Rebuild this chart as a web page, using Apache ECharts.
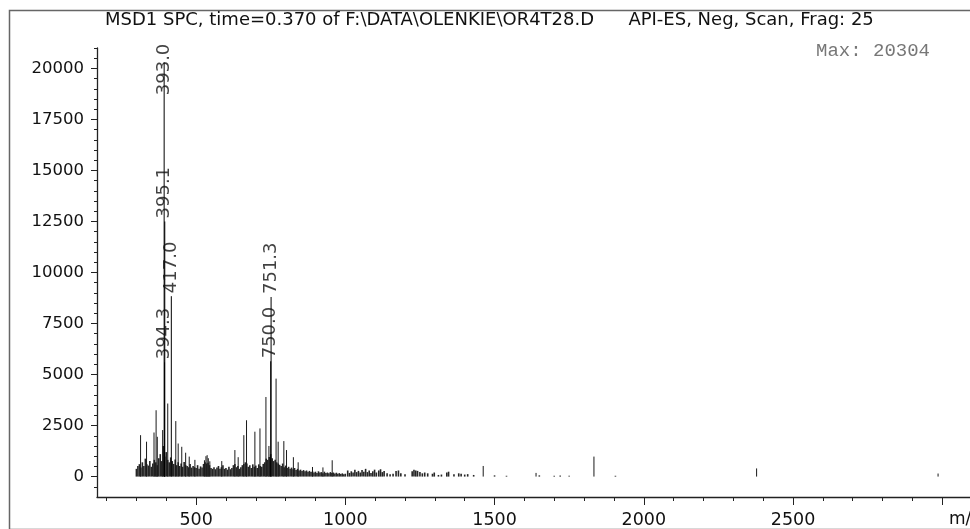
<!DOCTYPE html>
<html>
<head>
<meta charset="utf-8">
<script src="https://cdn.jsdelivr.net/npm/echarts@6/dist/echarts.min.js"></script>
<style>
html,body{margin:0;padding:0;background:#fff;}
#chart{width:970px;height:529px;}
</style>
</head>
<body>
<div id="chart"></div>
<script>
// ---- text ----
const titleText = 'MSD1 SPC, time=0.370 of F:\\DATA\\OLENKIE\\OR4T28.D      API-ES, Neg, Scan, Frag: 25';
const maxText = 'Max: 20304';
const xName = 'm/z';

// ---- ticks ----
const xMajorTicks = [500, 1000, 1500, 2000, 2500, 3000];
const xLabelTicks = [500, 1000, 1500, 2000, 2500];
const xMinorTicks = [200, 300, 400, 600, 700, 800, 900, 1100, 1200, 1300, 1400, 1600, 1700, 1800, 1900,
  2100, 2200, 2300, 2400, 2600, 2700, 2800, 2900];
const yMajorTicks = [0, 2500, 5000, 7500, 10000, 12500, 15000, 17500, 20000];
const yMinorTicks = [-500, 500, 1000, 1500, 2000, 3000, 3500, 4000, 4500, 5500, 6000, 6500, 7000,
  8000, 8500, 9000, 9500, 10500, 11000, 11500, 12000, 13000, 13500, 14000, 14500, 15500, 16000, 16500, 17000,
  18000, 18500, 19000, 19500, 20500, 21000];

// ---- labelled peaks [m/z, abundance] ----
const labelledPeaks = [[393.0, 20304], [395.1, 12500], [417.0, 8840], [394.3, 5600], [751.3, 8800], [750.0, 5650]];

// ---- other visible peaks [m/z, abundance] ----
const otherPeaks = [[314, 2030], [334, 1710], [359, 2160], [366, 3250], [370, 1950], [388, 2280], [405, 3580],
  [432, 2720], [440, 1620], [452, 1460], [465, 1170], [477, 980], [496, 820], [528, 800], [533, 1000], [537, 1050],
  [541, 900], [546, 750], [586, 760], [630, 1300], [641, 950], [660, 2030], [669, 2760], [697, 2200], [714, 2360],
  [734, 3900], [744, 1500], [768, 4800], [775, 1710], [794, 1740], [803, 1300], [826, 950], [842, 700], [890, 470],
  [925, 450], [956, 800], [1462, 520], [1639, 180], [1833, 980], [2378, 400], [2986, 150]];

// ---- baseline noise [m/z, abundance] ----
const noise = [[300, 380], [305, 520], [310, 610], [315, 450], [320, 700], [325, 520], [330, 880], [335, 600], [340, 540],
  [345, 760], [350, 480], [355, 640], [360, 820], [365, 700], [370, 560], [375, 900], [380, 1100], [385, 760], [390, 1500],
  [395, 980], [400, 1200], [405, 820], [410, 700], [415, 940], [420, 760], [425, 620], [430, 840], [435, 560], [440, 700],
  [445, 520], [450, 640], [455, 480], [460, 720], [465, 560], [470, 520], [475, 460], [480, 620], [485, 440], [490, 520],
  [495, 460], [500, 420], [505, 560], [510, 380], [515, 500], [520, 440], [525, 620], [530, 700], [535, 640], [540, 680],
  [545, 560], [550, 420], [555, 380], [560, 460], [565, 360], [570, 440], [575, 520], [580, 380], [585, 460], [590, 560],
  [595, 380], [600, 420], [605, 340], [610, 480], [615, 360], [620, 420], [625, 560], [630, 620], [635, 460], [640, 520],
  [645, 380], [650, 460], [655, 560], [660, 620], [665, 700], [670, 640], [675, 480], [680, 560], [685, 420], [690, 600],
  [695, 480], [700, 540], [705, 420], [710, 600], [715, 520], [720, 480], [725, 620], [730, 700], [735, 880], [740, 820],
  [745, 960], [750, 1100], [755, 900], [760, 760], [765, 820], [770, 700], [775, 640], [780, 580], [785, 520], [790, 640],
  [795, 460], [800, 540], [805, 420], [810, 480], [815, 380], [820, 440], [825, 360], [830, 420], [835, 320], [840, 380],
  [845, 300], [850, 340], [855, 280], [860, 320], [865, 260], [870, 300], [875, 240], [880, 280], [885, 220], [890, 260],
  [895, 200], [900, 240], [905, 180], [910, 260], [915, 200], [920, 220], [925, 160], [930, 240], [935, 180], [940, 200],
  [945, 160], [950, 220], [955, 180], [960, 200], [965, 150], [970, 190], [975, 140], [980, 170], [985, 130], [990, 160],
  [995, 120], [1000, 140], [1008, 300], [1014, 180], [1020, 260], [1026, 200], [1032, 340], [1038, 220], [1044, 280],
  [1050, 200], [1056, 320], [1062, 240], [1068, 380], [1074, 220], [1080, 300], [1086, 180], [1092, 260], [1098, 340],
  [1104, 200], [1112, 300], [1118, 360], [1124, 220], [1130, 280], [1140, 160], [1150, 120], [1160, 140], [1170, 280],
  [1178, 300], [1186, 160], [1200, 120], [1224, 260], [1230, 340], [1236, 300], [1242, 280], [1250, 220], [1258, 160],
  [1266, 200], [1276, 160], [1292, 140], [1298, 200], [1312, 80], [1322, 100], [1340, 200], [1346, 240], [1364, 120],
  [1380, 160], [1388, 140], [1400, 100], [1410, 120], [1430, 80], [1500, 60], [1540, 40], [1650, 60], [1700, 40],
  [1720, 50], [1750, 40], [1905, 40]];

// ---- styling / layout constants ----
const SANS = 'DejaVu Sans';
const labelShift = { '393.0': [-36, 0] };

function stickRenderer(color, width) {
  return function (params, api) {
    const x = api.value(0), y = api.value(1);
    const p0 = api.coord([x, 0]);
    const p1 = api.coord([x, y]);
    return {
      type: 'line',
      shape: { x1: p0[0], y1: p0[1], x2: p1[0], y2: p1[1] },
      style: { stroke: color, lineWidth: width }
    };
  };
}

const chart = echarts.init(document.getElementById('chart'));
const axisColor = '#222';
const plain = v => String(v);

const option = {
  animation: false,
  backgroundColor: '#fff',
  title: {
    text: titleText,
    left: 100, top: 6,
    textStyle: { fontFamily: SANS, fontSize: 18, fontWeight: 'normal', color: '#111' }
  },
  grid: { left: 97, right: 0, top: 48, bottom: 30.5, containLabel: false },
  xAxis: [
    {
      type: 'value', min: 168, max: 3093,
      axisLine: { show: true, onZero: false, lineStyle: { color: axisColor, width: 1.3 } },
      axisTick: { show: true, customValues: xMajorTicks, length: 8, lineStyle: { color: axisColor } },
      axisLabel: { customValues: xLabelTicks, formatter: plain, margin: 14, fontFamily: SANS, fontSize: 17.5, color: '#111' },
      splitLine: { show: false }
    },
    {
      type: 'value', min: 168, max: 3093, position: 'bottom',
      axisLine: { show: false, onZero: false },
      axisTick: { show: true, customValues: xMinorTicks, length: 4, lineStyle: { color: axisColor } },
      axisLabel: { show: false },
      splitLine: { show: false }
    }
  ],
  yAxis: [
    {
      type: 'value', min: -1000, max: 21000,
      axisLine: { show: true, onZero: false, lineStyle: { color: axisColor, width: 1.3 } },
      axisTick: { show: true, customValues: yMajorTicks, length: 6, lineStyle: { color: axisColor } },
      axisLabel: { customValues: yMajorTicks, formatter: plain, margin: 13, fontFamily: SANS, fontSize: 16.5, color: '#111' },
      splitLine: { show: false }
    },
    {
      type: 'value', min: -1000, max: 21000, position: 'left',
      axisLine: { show: false, onZero: false },
      axisTick: { show: true, customValues: yMinorTicks, length: 3, lineStyle: { color: axisColor } },
      axisLabel: { show: false },
      splitLine: { show: false }
    }
  ],
  series: [
    {
      type: 'custom', name: 'noise', data: noise, encode: { x: 0, y: 1 },
      renderItem: stickRenderer('#262626', 1.6), silent: true, clip: true
    },
    {
      type: 'custom', name: 'peaks', data: otherPeaks, encode: { x: 0, y: 1 },
      renderItem: stickRenderer('#1a1a1a', 1), silent: true, clip: true
    },
    {
      type: 'custom', name: 'labelled', data: labelledPeaks, encode: { x: 0, y: 1 },
      renderItem: stickRenderer('#000', 1), silent: true, clip: true
    },
    {
      type: 'scatter', name: 'labels', symbolSize: 0, silent: true,
      data: labelledPeaks.map(p => {
        const key = p[0].toFixed(1);
        const item = { value: p };
        if (labelShift[key]) item.label = { offset: labelShift[key] };
        return item;
      }),
      label: {
        show: true, position: 'top', distance: 3, rotate: 90,
        align: 'left', verticalAlign: 'middle',
        fontFamily: SANS, fontSize: 18, color: '#111',
        formatter: p => p.value[0].toFixed(1)
      }
    }
  ],
  graphic: [
    {
      type: 'rect', left: 7, top: 8, silent: true,
      shape: { width: 1020, height: 519 },
      style: { fill: 'none', stroke: '#666', lineWidth: 1.5 }
    },
    {
      type: 'text', right: 40, top: 41, silent: true,
      style: { text: maxText, font: '19px "Liberation Mono"', fill: '#777' }
    },
    {
      type: 'text', left: 949, top: 511, silent: true,
      style: { text: xName, font: '17px "DejaVu Sans"', fill: '#111' }
    }
  ]
};
chart.setOption(option);
</script>
</body>
</html>
